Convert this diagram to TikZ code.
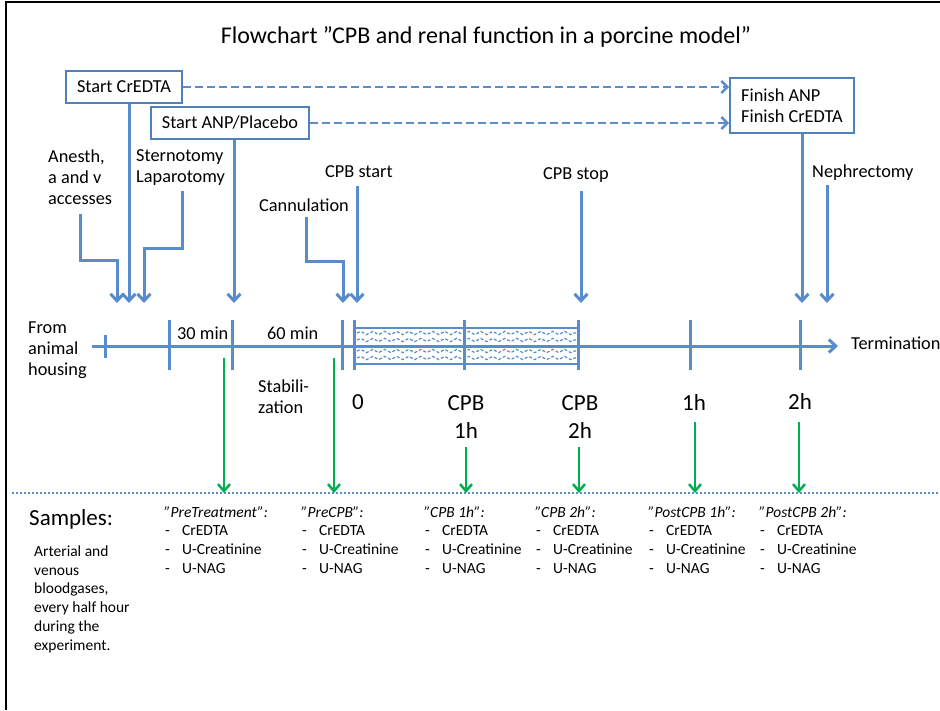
\documentclass[tikz,border=0pt]{standalone}
\usepackage{fontspec}
\setmainfont{Carlito}
\usetikzlibrary{arrows.meta,decorations.pathmorphing}
\definecolor{lineblue}{RGB}{88,140,202}
\definecolor{boxblue}{RGB}{79,129,189}
\definecolor{sgreen}{RGB}{0,176,80}
\newcommand\smpl[1]{\hspace*{1pt}\makebox[17pt][l]{-}#1}
\begin{document}
\begin{tikzpicture}[x=1pt,y=-1pt,
  lbl/.style={font=\fontsize{18.3}{21}\selectfont, inner sep=0pt, anchor=base west, align=left},
  big/.style={font=\fontsize{23}{28}\selectfont, inner sep=0pt, anchor=base, align=center},
  small/.style={font=\fontsize{15.5}{18.6}\selectfont, inner sep=0pt, anchor=base west, align=left},
  evbox/.style={draw=boxblue, line width=1.8pt, fill=white, font=\fontsize{18.3}{21}\selectfont, inner sep=0pt, align=left},
  evarrow/.style={draw=lineblue, line width=3pt, -{Straight Barb[length=7pt,width=13pt]}},
  planarrow/.style={draw=lineblue, line width=2.5pt, dash pattern=on 8pt off 4pt, -{Straight Barb[length=6pt,width=12pt]}},
  sample/.style={draw=sgreen, line width=2.5pt, -{Straight Barb[length=7pt,width=12pt]}},
  tickmark/.style={draw=lineblue, line width=3pt},
  wave/.style={draw=lineblue, line width=1.2pt, dash pattern=on 3pt off 2pt,
    decorate, decoration={snake, segment length=12pt, amplitude=1.6pt}}
]
\useasboundingbox (0,0) rectangle (940,710);

% page frame
\draw[black, line width=2pt] (6,710) -- (6,2) -- (940,2);

% title
\node[font=\fontsize{24}{28}\selectfont, anchor=base, inner sep=0pt] (title) at (486,43)
  {Flowchart ”CPB and renal function in a porcine model”};

% infusion boxes
\node[evbox, minimum width=116pt, minimum height=32pt] (crbox) at (124,87) {Start CrEDTA};
\node[evbox, minimum width=158pt, minimum height=32pt] (anpbox) at (230,123) {Start ANP/Placebo};
\node[evbox, minimum width=124pt, minimum height=55pt] (finbox) at (792,105.5) {Finish ANP\\Finish CrEDTA};

\draw[planarrow] (crbox.east) -- (crbox.east -| finbox.west);
\draw[planarrow] (anpbox.east) -- (anpbox.east -| finbox.west);

% event labels (multi-line nodes are placed by the baseline of their last line)
\node[lbl] (anesth) at (48,204) {Anesth,\\a and v\\accesses};
\node[lbl] (sterno) at (136,182) {Sternotomy\\Laparotomy};
\node[lbl] (cannul) at (259,211) {Cannulation};
\node[lbl] (cpbstart) at (325,177) {CPB start};
\node[lbl] (cpbstop) at (543,179) {CPB stop};
\node[lbl] (nephr) at (812,177) {Nephrectomy};

% arrow targets above the time line
\coordinate (a1) at (117,303);
\coordinate (a0) at (129,303);
\coordinate (a2) at (144,303);
\coordinate (a3) at (234,303);
\coordinate (a4) at (343,303);
\coordinate (a5) at (357,303);
\coordinate (a6) at (581,303);
\coordinate (a7) at (802,303);
\coordinate (a8) at (827,303);

% arrow feet below the labels
\coordinate (anesthfoot) at (80,214);
\coordinate (sternofoot) at (182,191);
\coordinate (cannulfoot) at (306,217);
\coordinate (cpbstartfoot) at (357,186);
\coordinate (cpbstopfoot) at (581,191);
\coordinate (nephrfoot) at (827,185);

\draw[evarrow] (crbox.south -| a0) -- (a0);
\draw[evarrow] (anpbox.south -| a3) -- (a3);
\draw[evarrow] (finbox.south -| a7) -- (a7);
\draw[evarrow] (anesthfoot) -- ++(0,46) -| (a1);
\draw[evarrow] (sternofoot) -- ++(0,57) -| (a2);
\draw[evarrow] (cannulfoot) -- ++(0,44) -| (a4);
\draw[evarrow] (cpbstartfoot) -- (a5);
\draw[evarrow] (cpbstopfoot) -- (a6);
\draw[evarrow] (nephrfoot) -- (a8);

% CPB period box with wavy fill
\foreach \y in {333,340,351,358}
  \draw[wave] (357,\y) -- (576,\y);
\node[draw=lineblue, line width=2.5pt, minimum width=224pt, minimum height=36pt, inner sep=0pt]
  (cpbbox) at (466,346) {};

% time line
\coordinate (tlstart) at (92,346);
\coordinate (tlend) at (838,346);
\draw[evarrow, line width=3pt] (tlstart) -- (tlend);

\draw[tickmark] (105,335) -- (105,358);
\foreach \x in {169,232,342,354,464,578,690,800}
  \draw[tickmark] (\x,320) -- (\x,370);

% time line labels
\node[lbl] (fromhousing) at (28,375) {From\\animal\\housing};
\node[lbl] (termin) at (851,349) {Termination};
\node[lbl] (thirty) at (177,339) {30 min};
\node[lbl] (sixty) at (267,339) {60 min};
\node[lbl] (stabil) at (258,413) {Stabili-\\zation};
\node[big] (tzero) at (358,409) {0};
\node[big] (tcpb1) at (466,438) {CPB\\1h};
\node[big] (tcpb2) at (580,438) {CPB\\2h};
\node[big] (tpost1) at (694,410) {1h};
\node[big] (tpost2) at (800,409) {2h};

% separator
\coordinate (sepl) at (12,493);
\coordinate (sepr) at (940,493);
\draw[lineblue, line width=2.5pt, dash pattern=on 2pt off 2pt] (sepl) -- (sepr);

% sampling arrows
\coordinate (g1) at (224,493);
\coordinate (g2) at (334,493);
\coordinate (g3) at (466,493);
\coordinate (g4) at (579,493);
\coordinate (g5) at (695,493);
\coordinate (g6) at (799,493);
\draw[sample] (224,358) -- (g1);
\draw[sample] (334,358) -- (g2);
\draw[sample] (466,447) -- (g3);
\draw[sample] (579,447) -- (g4);
\draw[sample] (695,422) -- (g5);
\draw[sample] (799,422) -- (g6);

% samples
\node[font=\fontsize{23}{28}\selectfont, inner sep=0pt, anchor=base west] (samples) at (29,525) {Samples:};
\node[small, font=\fontsize{15.5}{18.7}\selectfont] (gases) at (34,650)
  {Arterial and\\venous\\bloodgases,\\every half hour\\during the\\experiment.};

\node[small] (s1) at (164,573) {\textit{”PreTreatment”:}\\\smpl{CrEDTA}\\\smpl{U-Creatinine}\\\smpl{U-NAG}};
\node[small] (s2) at (301,573) {\textit{”PreCPB”:}\\\smpl{CrEDTA}\\\smpl{U-Creatinine}\\\smpl{U-NAG}};
\node[small] (s3) at (424,573) {\textit{”CPB 1h”:}\\\smpl{CrEDTA}\\\smpl{U-Creatinine}\\\smpl{U-NAG}};
\node[small] (s4) at (535,573) {\textit{”CPB 2h”:}\\\smpl{CrEDTA}\\\smpl{U-Creatinine}\\\smpl{U-NAG}};
\node[small] (s5) at (648,573) {\textit{”PostCPB 1h”:}\\\smpl{CrEDTA}\\\smpl{U-Creatinine}\\\smpl{U-NAG}};
\node[small] (s6) at (759,573) {\textit{”PostCPB 2h”:}\\\smpl{CrEDTA}\\\smpl{U-Creatinine}\\\smpl{U-NAG}};
\end{tikzpicture}
\end{document}
